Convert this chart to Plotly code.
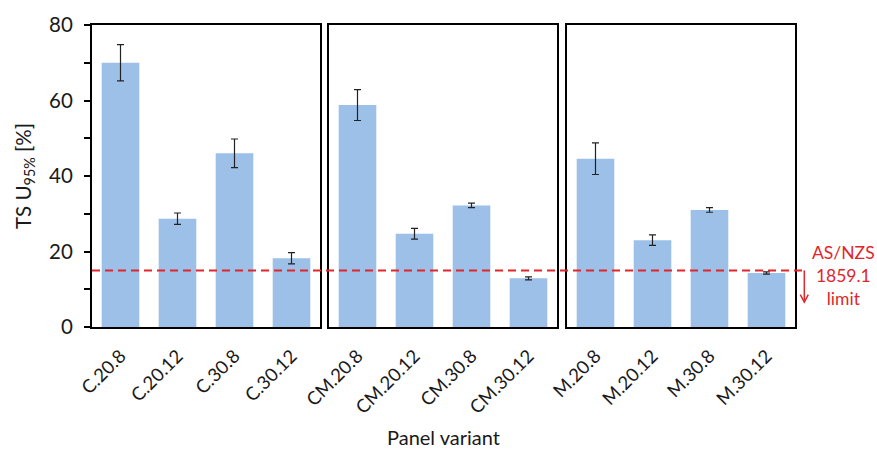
import plotly.graph_objects as go

# Panel variants grouped by core type
cats_c = ["C.20.8", "C.20.12", "C.30.8", "C.30.12"]
cats_cm = ["CM.20.8", "CM.20.12", "CM.30.8", "CM.30.12"]
cats_m = ["M.20.8", "M.20.12", "M.30.8", "M.30.12"]

# TS U95% [%] mean values and error-bar half widths
vals_c = [70.0, 28.7, 46.0, 18.2]
err_c = [4.8, 1.5, 3.8, 1.5]
vals_cm = [58.8, 24.7, 32.2, 12.9]
err_cm = [4.1, 1.4, 0.6, 0.4]
vals_m = [44.6, 23.0, 31.0, 14.3]
err_m = [4.2, 1.4, 0.6, 0.3]

limit_value = 15.0
arrow_tip = 6.6
limit_label = "AS/NZS<br>1859.1<br>limit"

BAR = "#9DC0E8"
RED = "#E0262A"
FONT = "Lato"
INK = "#1a1a1a"

fig = go.Figure()

series = [(cats_c, vals_c, err_c), (cats_cm, vals_cm, err_cm), (cats_m, vals_m, err_m)]
for i, (cats, vals, errs) in enumerate(series):
    suffix = "" if i == 0 else str(i + 1)
    fig.add_trace(go.Bar(
        x=cats, y=vals,
        marker=dict(color=BAR, line=dict(width=0)),
        width=0.66,
        error_y=dict(type="data", array=errs, visible=True,
                     color="#222222", thickness=1.2, width=3.5),
        xaxis="x" + suffix, yaxis="y" + suffix,
        showlegend=False,
    ))

W, H = 877, 457
left, right, top, bottom = 92, 82, 25, 130
pw = W - left - right
ph = H - top - bottom
domains = [
    [0.0, (320 - left) / pw],
    [(329 - left) / pw, (557 - left) / pw],
    [(567 - left) / pw, 1.0],
]

line_style = dict(showline=True, mirror=True, linecolor="black", linewidth=2,
                  showgrid=False, zeroline=False)

layout = dict(
    width=W, height=H,
    margin=dict(l=left, r=right, t=top, b=bottom, pad=0),
    paper_bgcolor="white", plot_bgcolor="white",
    font=dict(family=FONT, color=INK),
)

for i, (cats, _, _) in enumerate(series):
    suffix = "" if i == 0 else str(i + 1)
    layout["xaxis" + suffix] = dict(
        domain=domains[i], anchor="y" + suffix,
        type="category", categoryorder="array", categoryarray=cats,
        range=[-0.5, 3.5],
        ticks="", tickangle=-45, tickfont=dict(size=18.5, family=FONT, color=INK),
        ticklabelstandoff=9,
        **line_style,
    )
    yax = dict(domain=[0, 1], anchor="x" + suffix, range=[0, 80], **line_style)
    if i == 0:
        yax.update(
            ticks="outside", ticklen=6, tickwidth=2, tickcolor="black",
            dtick=20, tickfont=dict(size=20.5, family=FONT, color=INK),
            ticklabelstandoff=7,
            minor=dict(dtick=10, ticks="outside", ticklen=6, tickwidth=2,
                       tickcolor="black", showgrid=False),
            title=dict(text="TS U<sub>95%</sub> [%]",
                       font=dict(size=20.5, family=FONT, color=INK), standoff=12),
        )
    else:
        yax.update(ticks="", showticklabels=False, matches="y")
    layout["yaxis" + suffix] = yax

fig.update_layout(**layout)

# Shared x-axis title
fig.add_annotation(
    text="Panel variant", xref="paper", yref="paper",
    x=0.5, y=-(437 - 327) / ph, xanchor="center", yanchor="middle",
    showarrow=False, font=dict(size=20, family=FONT, color=INK),
)

# Dashed limit line across all panels
x_end = (805 - left) / pw
fig.add_shape(
    type="line", xref="paper", yref="y",
    x0=0, x1=x_end, y0=limit_value, y1=limit_value,
    line=dict(color=RED, width=2, dash="8px,5px"),
)

# Downward arrow marking the acceptable region
x_arr = x_end - 0.001
head_w = 4 / pw
head_h = 2.0
fig.add_shape(
    type="line", xref="paper", yref="y",
    x0=x_arr, x1=x_arr, y0=limit_value, y1=arrow_tip + 0.5,
    line=dict(color=RED, width=1.5),
)
fig.add_shape(
    type="path", xref="paper", yref="y",
    path=(f"M {x_arr - head_w} {arrow_tip + head_h} L {x_arr} {arrow_tip} "
          f"L {x_arr + head_w} {arrow_tip + head_h}"),
    line=dict(color=RED, width=1.5),
)

fig.add_annotation(
    text=limit_label, xref="paper", yref="y",
    x=(843 - left) / pw, y=13.7, xanchor="center", yanchor="middle",
    showarrow=False, align="center",
    font=dict(size=17.5, family=FONT, color=RED),
)

fig.write_html("out.html")
